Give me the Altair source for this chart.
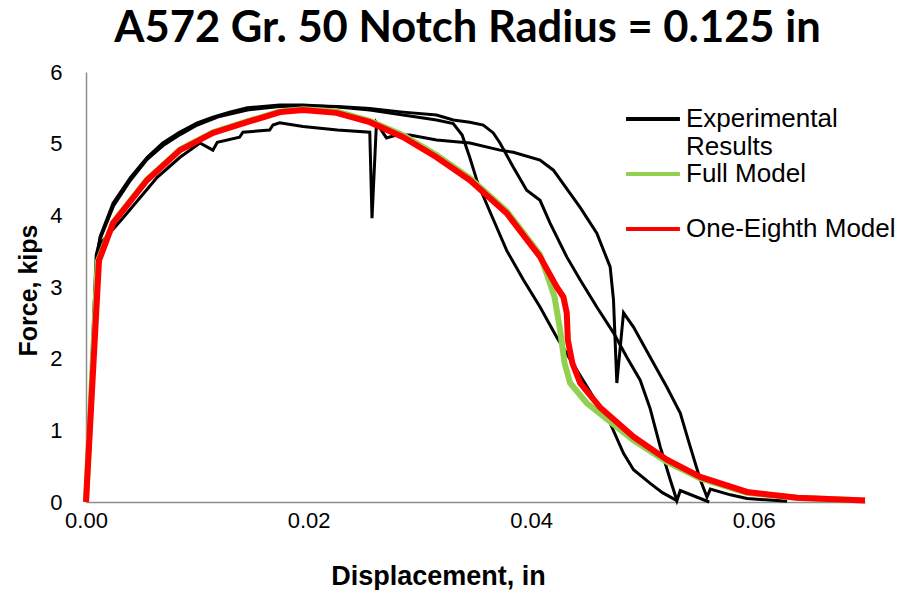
import altair as alt
import pandas as pd

title_text = "A572 Gr. 50 Notch Radius = 0.125 in"
x_title = "Displacement, in"
y_title = "Force, kips"
series_names = ["Experimental Results", "Full Model", "One-Eighth Model"]
series_colors = ["#000000", "#92D050", "#FF0000"]
x_ticks = [0.0, 0.02, 0.04, 0.06]
y_ticks = [0, 1, 2, 3, 4, 5, 6]

# Experimental specimen A (lower plateau, drops last)
expA_x = [0, 0.00099, 0.00126, 0.0033, 0.0064, 0.00845, 0.01024, 0.0114, 0.0118, 0.0138,
          0.0141, 0.0165, 0.0168, 0.0174, 0.0195, 0.0226, 0.0255, 0.0257, 0.0261, 0.0270,
          0.0279, 0.0291, 0.0315, 0.0345, 0.0372, 0.0384, 0.0408, 0.0420, 0.0444, 0.0459,
          0.0471, 0.0474, 0.0477, 0.0483, 0.0492, 0.0507, 0.0522, 0.0534, 0.0543, 0.0552,
          0.0558, 0.0561, 0.0579, 0.0594, 0.0630]
expA_y = [0, 3.35, 3.60, 3.96, 4.53, 4.81, 5.01, 4.91, 5.02, 5.09,
          5.16, 5.19, 5.26, 5.29, 5.24, 5.19, 5.16, 3.96, 5.29, 5.08,
          5.12, 5.12, 5.05, 5.01, 4.91, 4.88, 4.77, 4.63, 4.11, 3.75,
          3.28, 2.82, 1.66, 2.64, 2.44, 2.02, 1.60, 1.24, 0.77, 0.31,
          0.07, 0.18, 0.10, 0.05, 0.01]

# Experimental specimen B (drops first)
expB_x = [0, 0.00095, 0.00126, 0.00243, 0.0040, 0.0055, 0.0069, 0.0084, 0.0100, 0.0114,
          0.0129, 0.0145, 0.0174, 0.0195, 0.0226, 0.0255, 0.0285, 0.0315, 0.0330, 0.0338,
          0.0345, 0.0352, 0.0363, 0.0378, 0.0393, 0.0408, 0.0423, 0.0441, 0.0456, 0.0471,
          0.0483, 0.0492, 0.0507, 0.0518, 0.0531]
expB_y = [0, 3.40, 3.70, 4.17, 4.53, 4.81, 5.01, 5.16, 5.29, 5.37,
          5.44, 5.50, 5.54, 5.54, 5.51, 5.47, 5.40, 5.33, 5.28, 5.12,
          4.80, 4.45, 4.05, 3.51, 3.10, 2.72, 2.30, 1.84, 1.46, 1.10,
          0.68, 0.45, 0.26, 0.13, 0.02]

# Experimental specimen C (middle drop)
expC_x = [0, 0.00092, 0.00130, 0.0025, 0.0040, 0.0055, 0.0069, 0.0085, 0.0100, 0.0120,
          0.0145, 0.0174, 0.0200, 0.0226, 0.0255, 0.0285, 0.0315, 0.0330, 0.0345, 0.0357,
          0.0366, 0.0372, 0.0384, 0.0396, 0.0408, 0.0417, 0.0432, 0.0444, 0.0459, 0.0474,
          0.0486, 0.0498, 0.0507, 0.0516, 0.0525, 0.0531, 0.0534, 0.0560]
expC_y = [0, 3.45, 3.68, 4.14, 4.49, 4.78, 4.97, 5.13, 5.26, 5.38,
          5.47, 5.52, 5.53, 5.52, 5.49, 5.44, 5.40, 5.33, 5.30, 5.26,
          5.15, 5.01, 4.67, 4.35, 4.21, 3.89, 3.42, 3.10, 2.72, 2.36,
          2.02, 1.70, 1.30, 0.77, 0.31, 0.02, 0.16, 0.0]

# Full model
full_x = [0, 0.00105, 0.00243, 0.00548, 0.00845, 0.01141, 0.01447, 0.01743, 0.0195, 0.0225,
          0.0255, 0.0285, 0.0315, 0.0345, 0.0378, 0.0408, 0.0417, 0.0421, 0.0426, 0.0430,
          0.0435, 0.0450, 0.0492, 0.0522, 0.0552, 0.0594, 0.0639, 0.0700]
full_y = [0, 3.35, 3.90, 4.50, 4.92, 5.16, 5.31, 5.45, 5.48, 5.45,
          5.32, 5.12, 4.84, 4.52, 4.06, 3.45, 3.05, 2.86, 2.40, 1.94,
          1.66, 1.38, 0.86, 0.56, 0.33, 0.13, 0.06, 0.02]

# One-eighth model
eighth_x = [0, 0.00117, 0.00243, 0.00548, 0.00845, 0.01141, 0.01447, 0.01743, 0.0195, 0.0225,
            0.0255, 0.0285, 0.0315, 0.0345, 0.0378, 0.0408, 0.0423, 0.0429, 0.0432, 0.0433,
            0.0437, 0.0444, 0.0462, 0.0492, 0.0522, 0.0552, 0.0594, 0.0639, 0.0700]
eighth_y = [0, 3.37, 3.89, 4.49, 4.91, 5.15, 5.30, 5.44, 5.47, 5.43,
            5.30, 5.09, 4.81, 4.49, 4.03, 3.42, 3.00, 2.86, 2.64, 2.26,
            1.94, 1.66, 1.32, 0.91, 0.59, 0.35, 0.14, 0.06, 0.02]


def frame(xs, ys, series, run):
    return pd.DataFrame({"x": xs, "y": ys, "series": series, "run": run,
                         "i": list(range(len(xs)))})


exp_df = pd.concat([
    frame(expA_x, expA_y, series_names[0], "A"),
    frame(expB_x, expB_y, series_names[0], "B"),
    frame(expC_x, expC_y, series_names[0], "C"),
])
full_df = frame(full_x, full_y, series_names[1], "F")
eighth_df = frame(eighth_x, eighth_y, series_names[2], "E")

FONT = "Liberation Sans"

x_enc = alt.X("x:Q", scale=alt.Scale(domain=[0, 0.07], nice=False, zero=False),
              axis=alt.Axis(values=x_ticks, format=".2f", title=x_title,
                            labelPadding=8, labelFlush=False,
                            titleX=352, titleY=74, titleBaseline="middle",
                            titleFontSize=27))
y_enc = alt.Y("y:Q", scale=alt.Scale(domain=[0, 6], nice=False),
              axis=alt.Axis(values=y_ticks, format="d", title=y_title,
                            labelPadding=24, labelFlush=False,
                            titleX=-58, titleY=218,
                            titleBaseline="middle", titleAngle=270))


def make_legend(y):
    return alt.Legend(
        title=None, orient="none", legendX=538, legendY=y,
        symbolType="stroke", symbolSize=2900, symbolStrokeWidth=4,
        labelFont=FONT, labelFontSize=26, labelColor="black", labelLimit=400,
        labelOffset=4,
        labelExpr="datum.label == 'Experimental Results' ? ['Experimental', 'Results'] : datum.label",
    )


def color_enc(k, y):
    return alt.Color("series:N",
                     scale=alt.Scale(domain=[series_names[k]], range=[series_colors[k]]),
                     legend=make_legend(y))


exp_layer = alt.Chart(exp_df).mark_line(strokeWidth=3).encode(
    x=x_enc, y=y_enc, color=color_enc(0, 18), detail="run:N", order="i:Q",
)
full_layer = alt.Chart(full_df).mark_line(strokeWidth=6).encode(
    x=x_enc, y=y_enc, color=color_enc(1, 73), order="i:Q",
)
eighth_layer = alt.Chart(eighth_df).mark_line(strokeWidth=6).encode(
    x=x_enc, y=y_enc, color=color_enc(2, 128), order="i:Q",
)

chart = alt.layer(exp_layer, full_layer, eighth_layer).resolve_scale(
    color="independent"
).properties(
    width=779, height=430,
    padding={"left": 78, "top": 64, "right": 33, "bottom": 88},
    autosize=alt.AutoSizeParams(type="none"),
    background="white",
    title=alt.Title(title_text, font="Lato", fontSize=43.5, fontWeight="bold",
                    color="black", anchor="middle", offset=18, dx=-8, dy=42,
                    baseline="alphabetic"),
).configure_view(stroke=None).configure_axis(
    grid=False, ticks=False, tickSize=0, domainColor="#8c8c8c", domainWidth=1.5,
    labelFont=FONT, labelFontSize=22, labelColor="black",
    titleFont=FONT, titleFontSize=25, titleFontWeight="bold", titleColor="black",
)

chart.save("out.html", embed_options={"renderer": "svg", "actions": False})
